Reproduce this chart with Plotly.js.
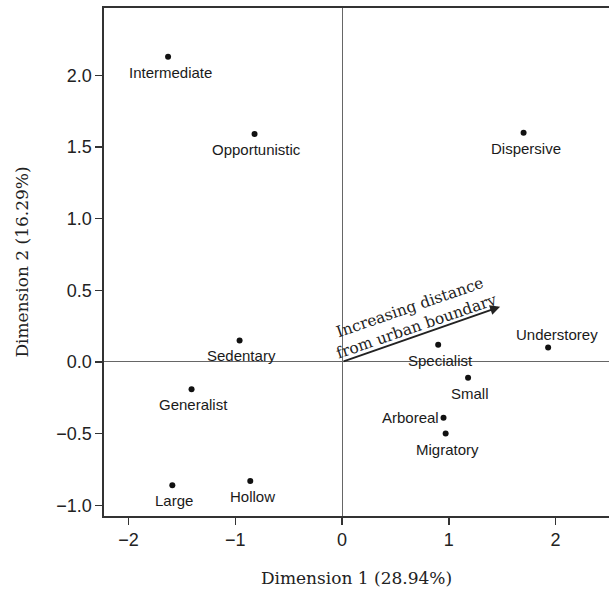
<!DOCTYPE html>
<html>
<head>
<meta charset="utf-8">
<script src="https://cdn.plot.ly/plotly-3.0.1.min.js"></script>
<style>html,body{margin:0;padding:0;background:#fff;}#chart{width:609px;height:592px;}</style>
</head>
<body>
<div id="chart"></div>
<script>
// Data
const traits = ["Intermediate","Opportunistic","Dispersive","Sedentary","Generalist","Large","Hollow","Understorey","Specialist","Small","Arboreal","Migratory"];
const dim1 = [-1.63,-0.82,1.70,-0.96,-1.41,-1.59,-0.86,1.93,0.90,1.18,0.95,0.97];
const dim2 = [2.13,1.59,1.60,0.15,-0.19,-0.86,-0.83,0.10,0.12,-0.11,-0.39,-0.50];
const labelSide = ["below","below","below","below","below","below","below","above","below","below","left","below"];
const arrowEnd = [1.48, 0.385];
const arrowText = "Increasing distance<br>from urban boundary";
const xTicks = [-2,-1,0,1,2];
const yTicks = [-1.0,-0.5,0.0,0.5,1.0,1.5,2.0];

const trace = {
  x: dim1, y: dim2,
  mode: "markers",
  type: "scatter",
  marker: {color: "#111", size: 6},
  cliponaxis: false,
  hoverinfo: "skip"
};

const labelFont = {family: "Liberation Sans, Arial, sans-serif", size: 15, color: "#1a1a1a"};
const sideStyle = {
  below: {xanchor: "center", yanchor: "top", xshift: 2, yshift: -5},
  above: {xanchor: "center", yanchor: "bottom", xshift: 9, yshift: 3},
  left:  {xanchor: "right", yanchor: "middle", xshift: -3, yshift: 0}
};
const labelAnns = traits.map((t, i) => Object.assign({
  x: dim1[i], y: dim2[i], xref: "x", yref: "y", text: t, showarrow: false, font: labelFont
}, sideStyle[labelSide[i]]));

const axisCommon = {
  showgrid: false,
  zeroline: true,
  zerolinecolor: "#666",
  zerolinewidth: 1,
  showline: true,
  linecolor: "#333",
  linewidth: 1.6,
  ticks: "outside",
  ticklen: 7,
  tickwidth: 1.3,
  tickcolor: "#333",
  tickfont: {family: "Liberation Sans, Arial, sans-serif", size: 18, color: "#222"},
  automargin: true
};

const layout = {
  width: 609, height: 592,
  margin: {l: 104, r: 0, t: 8, b: 76},
  paper_bgcolor: "#fff", plot_bgcolor: "#fff",
  showlegend: false,
  xaxis: Object.assign({}, axisCommon, {
    range: [-2.23, 2.50],
    tickvals: xTicks,
    mirror: true,
    title: {text: "Dimension 1 (28.94%)", standoff: 23,
      font: {family: "DejaVu Serif, serif", size: 17, color: "#222"}}
  }),
  yaxis: Object.assign({}, axisCommon, {
    range: [-1.075, 2.47],
    tickvals: yTicks,
    tickformat: ".1f",
    mirror: false,
    title: {text: "Dimension 2 (16.29%)", standoff: 23,
      font: {family: "DejaVu Serif, serif", size: 17, color: "#222"}}
  }),
  annotations: [
    {x: arrowEnd[0], y: arrowEnd[1], ax: 0, ay: 0, xref: "x", yref: "y", axref: "x", ayref: "y",
     text: "", showarrow: true, arrowhead: 2, arrowsize: 1, arrowwidth: 2, arrowcolor: "#222"},
    {x: 0.665, y: 0.315, xref: "x", yref: "y", text: arrowText, showarrow: false,
     textangle: -19, font: {family: "DejaVu Serif, serif", size: 15.5, color: "#222"}}
  ].concat(labelAnns)
};

Plotly.newPlot("chart", [trace], layout, {displayModeBar: false, staticPlot: true});
</script>
</body>
</html>
